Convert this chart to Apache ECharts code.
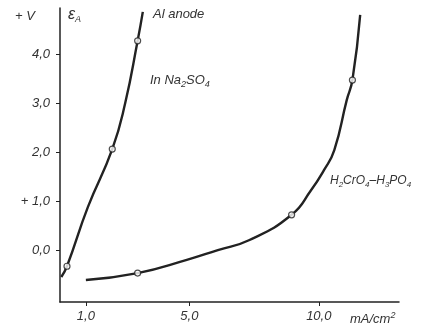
<!DOCTYPE html>
<html>
<head>
<meta charset="utf-8">
<script src="https://cdn.jsdelivr.net/npm/echarts@6/dist/echarts.min.js"></script>
<style>
  html, body { margin: 0; padding: 0; background: #fff; }
  #chart { width: 436px; height: 332px; }
</style>
</head>
<body>
<div id="chart"></div>
<script>
// Anode potential vs current density, two electrolytes
const xTicks = [1, 5, 10];
const xTickLabels = ["1,0", "5,0", "10,0"];
const yTicks = [0, 1, 2, 3, 4];
const yTickLabels = ["0,0", "+ 1,0", "2,0", "3,0", "4,0"];

// Na2SO4 curve
const naX = [0.05, 0.27, 1.08, 2.02, 2.52, 3.0, 3.2];
const naY = [-0.55, -0.33, 0.88, 2.06, 3.0, 4.27, 4.86];
const naMarkX = [0.27, 2.02, 3.0];
const naMarkY = [-0.33, 2.06, 4.27];

// H2CrO4-H3PO4 curve
const crX = [1.0, 3.0, 4.9, 6.1, 7.3, 8.95, 9.7, 10.2, 10.6, 11.08, 11.3, 11.6];
const crY = [-0.61, -0.47, -0.2, 0.0, 0.2, 0.72, 1.22, 1.63, 2.04, 3.06, 3.47, 4.8];
const crMarkX = [3.0, 8.95, 11.3];
const crMarkY = [-0.47, 0.72, 3.47];

const zip = (xs, ys) => xs.map((x, i) => [x, ys[i]]);

const FONT = "Liberation Sans";
const INK = "#222";
const TXT = { fontFamily: FONT, fontStyle: "italic", fontSize: 13, fill: "#333" };
const SUB = { fontFamily: FONT, fontStyle: "italic", fontSize: 9, fill: "#333", padding: [8, 0, 0, 0] };

const lineStyle = { color: INK, width: 2.4 };
const markStyle = { color: "#fff", borderColor: INK, borderWidth: 1.2 };

const chart = echarts.init(document.getElementById("chart"), null, { renderer: "canvas" });

chart.setOption({
  animation: false,
  grid: { left: 60, right: 37, top: 8, bottom: 30 },
  xAxis: {
    type: "value", min: 0, max: 13.1,
    splitLine: { show: false },
    axisLine: { onZero: false, lineStyle: { color: INK, width: 1.5 } },
    axisTick: { customValues: xTicks, length: 4, lineStyle: { color: INK } },
    axisLabel: {
      customValues: xTicks,
      formatter: (v) => xTickLabels[xTicks.indexOf(v)],
      fontFamily: FONT, fontStyle: "italic", fontSize: 13, color: "#333", margin: 8,
    },
  },
  yAxis: {
    type: "value", min: -1.06, max: 4.94,
    splitLine: { show: false },
    axisLine: { onZero: false, lineStyle: { color: INK, width: 1.5 } },
    axisTick: { customValues: yTicks, length: 4, lineStyle: { color: INK } },
    axisLabel: {
      customValues: yTicks,
      formatter: (v) => yTickLabels[yTicks.indexOf(v)],
      fontFamily: FONT, fontStyle: "italic", fontSize: 13, color: "#333", margin: 10,
    },
  },
  series: [
    { type: "line", data: zip(naX, naY), smooth: 0.5, symbol: "none", lineStyle },
    { type: "line", data: zip(crX, crY), smooth: 0.5, symbol: "none", lineStyle },
    { type: "scatter", data: zip(naMarkX, naMarkY), symbolSize: 6, itemStyle: markStyle, z: 5 },
    { type: "scatter", data: zip(crMarkX, crMarkY), symbolSize: 6, itemStyle: markStyle, z: 5 },
  ],
  graphic: [
    { type: "text", left: 15, top: 10, style: Object.assign({ text: "+ V" }, TXT) },
    {
      type: "text", left: 68, top: 7,
      style: Object.assign({}, TXT, {
        text: "ε{s|A}", fontSize: 16,
        rich: { s: Object.assign({}, SUB, { padding: [9, 0, 0, 0] }) },
      }),
    },
    { type: "text", left: 153, top: 8, style: Object.assign({ text: "Al anode" }, TXT) },
    {
      type: "text", left: 150, top: 74,
      style: Object.assign({ text: "In Na{s|2}SO{s|4}", rich: { s: SUB } }, TXT),
    },
    {
      type: "text", left: 330, top: 175,
      style: Object.assign({}, TXT, {
        text: "H{s|2}CrO{s|4}–H{s|3}PO{s|4}", fontSize: 12,
        rich: { s: Object.assign({}, SUB, { fontSize: 8 }) },
      }),
    },
    {
      type: "text", left: 350, top: 311,
      style: Object.assign({}, TXT, {
        text: "mA/cm{p|2}",
        rich: { p: Object.assign({}, SUB, { padding: [0, 0, 8, 0] }) },
      }),
    },
  ],
});
</script>
</body>
</html>
